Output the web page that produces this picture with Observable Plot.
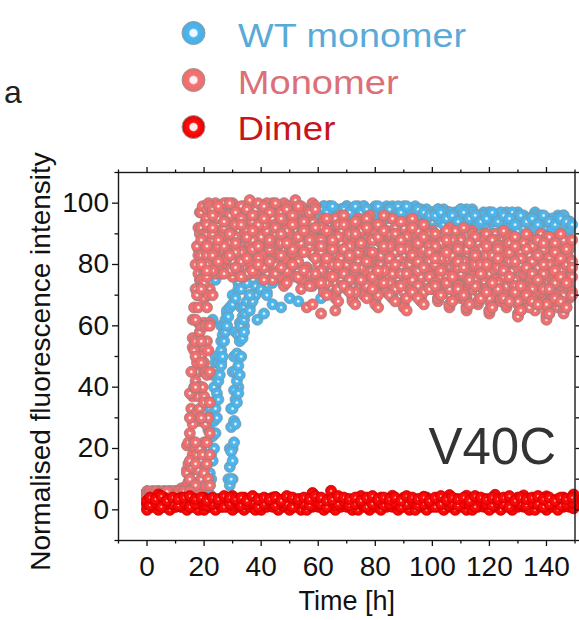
<!DOCTYPE html>
<html><head><meta charset="utf-8">
<script src="https://cdn.jsdelivr.net/npm/d3@7"></script>
<script src="https://cdn.jsdelivr.net/npm/@observablehq/plot@0.6"></script>
<style>
body{margin:0;background:#fff;font-family:"Liberation Sans",Arial,sans-serif;}
#wrap{position:relative;width:579px;height:620px;overflow:hidden;background:#fff;}
#legend{position:absolute;left:0;top:0;}
#chart{position:absolute;left:0;top:150px;}
</style></head><body>
<div id="wrap"><svg id="legend" width="579" height="150"></svg><div id="chart"></div></div>
<script>
const FONT = "Liberation Sans, Arial, sans-serif";

// time grids (h)
const hours = [0,2,4,6,8,10,12,14,16,18,20,22,24,26,28,30,32,34,36,38,40,42,44,46,48,50,52,54,56,58,60,62,64,66,68,70,72,74,76,78,80,82,84,86,88,90,92,94,96,98,100,102,104,106,108,110,112,114,116,118,120,122,124,126,128,130,132,134,136,138,140,142,144,146,148];
const hoursOdd = [1,3,5,7,9,11,13,15,17,19,21,23,25,27,29,31,33,35,37,39,41,43,45,47,49,51,53,55,57,59,61,63,65,67,69,71,73,75,77,79,81,83,85,87,89,91,93,95,97,99,101,103,105,107,109,111,113,115,117,119,121,123,125,127,129,131,133,135,137,139,141,143,145,147,149];

// Monomer (pink) replicate traces, even hours
const pink1 = [5,6,5,4,6,5,6, 13,45,77,91, 97,99,95,100,94,98,96,99,93,97,95,100,96,94,99,95,98,93,97, 93,95,90,94,96,89,93,95,91,94,88,93,90,95,92,89,94,90,93,88, 91,87,90,92,88,89,86,91,87,90,85,90,88,86,89,87,84,89,86,90,85,88,89,84,87];
const pink2 = [4,5,6,5,4,6,5, 6,37,70,88, 93,90,95,88,92,96,89,94,91,87,95,92,90,96,88,93,91,89,94, 89,86,91,84,88,90,85,89,87,92,83,88,86,90,85,89,84,88,91,86, 86,83,88,82,85,87,81,86,84,88,80,85,83,87,82,86,84,81,85,83,87,80,84,86,82];
const pink3 = [6,4,5,6,5,4,5, 5,29,61,86, 89,85,91,86,88,83,90,87,85,92,84,89,86,90,83,88,91,85,87, 85,81,87,80,84,86,79,85,82,88,78,84,81,86,80,85,83,79,86,82, 81,77,83,76,80,82,75,81,78,84,74,80,77,82,76,81,79,73,80,78,83,75,79,81,77];
const pink4 = [5,5,4,6,6,5,4, 4,21,53,81, 84,81,87,79,85,82,78,86,83,80,88,81,84,79,86,82,85,78,83, 81,77,83,75,80,82,74,79,85,76,81,73,80,78,84,75,79,82,77,80, 77,73,79,71,76,78,70,75,80,72,77,69,75,74,79,70,76,78,72,75,68,77,74,71,76];
const pink5 = [4,6,5,5,4,6,6, 5,13,45,77, 80,77,82,78,76,81,79,77,83,78,80,76,79,74,78,81,75,77,73, 77,73,79,71,76,74,70,78,72,75,69,77,73,71,76,68,74,72,70,75, 73,69,75,67,72,70,66,74,68,71,65,73,69,67,72,64,70,68,66,71,63,69,67,65,70];
const pink6 = [6,5,4,5,6,4,5, 6,6,37,69, 92,95,90,97,93,91,96,94,89,98,92,95,90,94,97,91,93,96,90, 88,85,90,83,87,89,84,88,86,91,82,87,85,89,83,88,86,84,87,85, 84,80,85,79,83,81,78,84,80,86,77,82,80,84,78,83,81,76,82,80,85,78,81,83,79];
const pink7 = [5,4,6,5,5,6,4, 5,5,29,61, 88,91,87,93,89,86,92,90,88,94,87,91,89,85,92,88,90,86,91, 84,80,86,78,83,81,77,85,79,84,76,82,80,85,78,83,81,77,84,79, 80,76,81,74,79,77,73,80,75,82,72,78,76,80,74,79,77,71,78,76,81,73,77,79,75];
const pink8 = [4,5,5,6,4,5,6, 4,5,21,53, 84,87,82,88,85,83,89,86,81,87,84,82,88,80,85,83,86,79,84, 80,76,82,74,79,77,73,81,75,78,72,80,76,74,79,71,77,75,73,78, 76,72,78,70,75,73,69,76,71,74,68,75,72,70,74,67,73,71,69,74,66,72,70,68,73];
const pink9 = [6,5,6,4,5,5,6, 5,4,13,45, 80,83,79,85,81,78,84,80,77,83,79,81,76,82,78,80,75,79,74, 76,72,78,70,75,73,69,77,71,74,68,76,72,70,75,67,73,71,69,74, 72,68,74,66,71,69,65,72,67,70,64,71,68,66,70,63,69,67,65,70,62,68,66,64,69];
const pink10 = [6,5,6,5,4,6,7, 21,53,85,97, 99,100,98,96,100,97,99,101,98,96,100,99,97,100,98,101,99,97,100, 92,94,90,95,91,93,89,94,92,96,90,93,91,95,89,92,94,90,93,91, 89,86,90,87,91,88,85,90,87,89,84,88,86,90,85,88,87,83,88,86,89,84,87,88,85];
const pink11 = [5,6,4,5,6,5,5, 4,5,6,37, 72,80,77,82,78,79,76,81,78,80,77,75,79,73,77,76,72,78,74, 74,71,76,69,73,72,68,75,70,72,67,74,71,69,73,66,72,70,68,72, 72,69,74,67,71,70,66,72,68,70,65,71,69,67,70,68,69,66,69,71,64,70,68,66,70];
const pink12 = [4,5,5,6,5,4,6, 5,4,5,29, 61,85,89,92,88,94,90,87,93,89,91,86,92,88,90,94,87,91,89, 83,79,85,77,82,80,76,84,78,81,75,83,79,77,82,74,80,78,76,81, 75,71,77,72,74,70,68,76,73,72,69,75,71,73,74,68,72,70,71,73,67,71,69,70,72];
// Monomer traces, odd hours
const pink13 = [5,6,5,5,6,4,6, 30,62,88,95, 98,95,100,96,93,99,97,94,100,96,98,93,97,99,95,98,94,96,99, 92,95,89,93,96,90,94,91,95,88,93,96,90,92,94,89,95,91,93,90, 90,87,91,88,86,92,87,89,85,90,88,86,91,87,89,84,90,86,88,85,89,87,90,84,88];
const pink14 = [4,5,6,4,5,6,5, 10,40,72,86, 90,86,92,87,89,84,91,88,86,93,85,90,87,91,84,89,92,86,88, 84,80,87,79,85,82,78,86,81,83,77,85,80,84,79,86,82,78,85,81, 80,76,82,75,79,81,74,80,77,83,73,79,76,81,75,80,78,72,79,77,82,74,78,80,76];
const pink15 = [5,4,5,6,5,5,4, 5,22,55,80, 83,80,86,78,84,81,77,85,82,79,87,80,83,78,85,81,84,77,82, 78,74,80,72,77,75,71,79,73,76,70,78,74,72,77,69,75,73,71,76, 74,70,76,68,73,71,67,75,69,72,66,74,70,68,73,65,71,69,67,72,64,70,68,66,71];
const pink16 = [6,5,5,4,6,5,5, 16,50,80,93, 96,99,94,100,97,95,98,96,93,99,97,100,95,98,96,99,94,97,98, 88,91,85,89,93,86,90,87,92,84,89,91,86,90,88,85,92,87,89,86, 86,82,88,83,85,81,87,84,80,86,83,85,79,84,86,82,85,81,83,87,80,84,82,85,81];
const pink17 = [5,6,4,5,5,6,5, 5,8,30,66, 78,81,77,83,79,76,82,78,80,75,81,77,79,74,80,76,78,73,77, 74,70,76,68,73,71,67,75,69,72,66,74,70,68,73,65,71,69,67,72, 73,70,74,68,72,70,67,73,69,71,66,72,69,68,71,65,70,68,67,72,64,69,68,66,70];
const pink18 = [4,5,5,6,4,5,6, 6,15,48,78, 92,88,94,90,87,93,89,91,86,95,88,92,90,87,93,89,91,88,92, 86,82,88,80,85,83,79,87,81,84,78,86,82,80,85,77,83,81,79,84, 82,78,84,76,81,79,75,83,77,80,74,82,78,76,81,73,79,77,75,80,72,78,76,74,79];
// extra Monomer points [h, value] (rise streak, outliers)
const pinkExtra = [[14,8],[14,12],[14.5,9],[14.5,15],[14.5,22],[15,10],[15,25],[15,38],[15.5,14],[15.5,33],[15.5,45],[16,8],[16,18],[16,28],[16,56],[16,62],[16.5,22],[16.5,40],[16.5,52],[16.5,66],
 [17,8],[17,20],[17,42],[17,55],[17,72],[17,80],[17.5,18],[17.5,32],[17.5,48],[17.5,70],[17.5,86],[18,9],[18,40],[18,66],[18,83],[18,92],
 [18.5,20],[18.5,33],[18.5,58],[18.5,75],[18.5,90],[18.5,97],[19,10],[19,40],[19,50],[19,60],[19,75],[19,83],[19,92],[19,97],
 [19.5,18],[19.5,40],[19.5,55],[19.5,80],[19.5,88],[19.5,99],[20,12],[20,22],[20,35],[20,48],[20,74],[20,90],[20.5,8],[20.5,28],[20.5,45],[20.5,60],[20.5,78],[20.5,86],[20.5,94],
 [21,15],[21,22],[21,44],[21,55],[21,76],[21,83],[21,90],[21,98],[21.5,10],[21.5,30],[21.5,52],[21.5,70],[21.5,92],[21.5,100],
 [22,8],[22,18],[22,25],[22,35],[22,45],[22,60],[22,80],[22,99],[23,70],[23,88],[23,97],[56,66],[58,67],[61,64],[66,65]];

// WT monomer (blue) replicate traces
const blue1 = [2,1,2,3,1,2,2, 1,2,2,3, 20,40,55,64,70,74,78,82,85,88,90,92,94,95,96,97,96,98,97, 98,97,99,96,98,99,97,98,99,96,98,97,99,98,96,99,97,98,96,97, 97,95,98,96,97,94,96,98,95,97,94,96,95,97,93,96,94,95,97,93,95,94,96,92,94];
const blue2 = [1,2,2,1,3,2,1, 2,1,2,1, 8,30,48,60,67,72,76,80,83,86,89,91,93,95,96,97,98,97,99, 97,99,96,98,97,99,98,96,98,97,99,96,98,99,97,98,96,99,97,98, 96,98,94,97,95,96,98,94,96,95,97,93,96,94,95,97,93,95,96,92,95,93,94,96,92];
const blue3 = [2,2,1,2,2,3,1, 2,2,1,2, 2,1,2,2,20,50,65,70,73,75,77,79,81,83,85,86,88,89,90, 91,92,93,94,94,95,96,95,96,97,96,95,97,96,98,95,96,97,95,96, 95,94,96,93,95,94,92,95,93,96,94,92,95,93,94,91,95,93,92,94,90,93,92,94,91];
const blue4 = [1,2,3,2,1,2,2, 1,2,2,1, 1,2,1,3,10,40,60,66,70,72,71,74,76,78,80,82,84,85,87, 87,88,89,90,91,92,93,92,94,93,95,94,96,95,94,96,95,97,96,95, 94,96,93,95,92,94,95,91,94,93,95,92,94,91,93,95,92,94,90,93,92,91,94,90,92];
const blue5 = [2,3,2,1,2,2,3, 2,1,3,3, 35,75,88,94,95,96,95,97,96,98,95,97,96,98,97,95,97,96,97, 98,97,99,98,98,96,97,99,98,96,98,97,96,98,97,96,98,96,97,95, 97,98,96,97,95,98,96,97,94,96,97,95,96,94,97,95,96,93,95,96,94,95,93,96,94];
const blue6 = [1,2,1,2,3,1,2, 2,2,1,4, 4,50,80,90,93,95,96,97,95,96,98,97,95,97,96,98,95,97,96, 97,99,96,98,95,97,98,96,99,97,96,98,95,97,99,96,97,95,98,96, 96,95,97,94,96,98,95,97,93,96,95,94,97,95,93,96,94,95,92,95,94,92,95,93,94];
// WT monomer trace, odd hours
const blue7 = [2,1,2,2,1,3,2, 2,1,3,30, 62,80,88,92,93,95,95,96,95,97,96,95,97,96,98,96,95,97,96, 98,97,99,96,98,97,99,97,98,96,99,97,98,96,97,99,96,98,97,96, 96,97,95,96,94,97,95,96,94,95,97,94,96,95,93,96,94,95,93,96,94,93,95,94,93];
// extra WT monomer points [h, value] (rise streaks, low points)
const blueExtra = [[20,3],[20.5,4],[20.5,8],[21,4],[21,9],[21,15],[21.5,12],[21.5,20],[21.5,26],[22,5],[22,12],[22,26],[22,33],[22.5,10],[22.5,18],[22.5,24],[22.5,31],[23,16],[23,24],[23,30],[23,35],[23,44],
 [23.5,20],[23.5,29],[23.5,40],[24,25],[24,33],[24,48],[24.5,30],[24.5,38],[24.5,44],[25,36],[25,42],[25,48],[25.5,44],[25.5,50],[26,47],[26,52],[26,60],[26.5,50],[26.5,57],[27,55],[27,60],[27.5,58],[27.5,62],[28,60],[28,65],[28.5,63],[29,66],[30,67],[31,69],[33,72],[35,74],
 [28.5,4],[28.5,10],[29,3],[29,8],[29,14],[29,20],[29.5,10],[29.5,19],[29.5,27],[29.5,33],[30,16],[30,33],[30,45],[30.5,22],[30.5,29],[30.5,39],[30.5,50],[31,28],[31,36],[31,45],[31,58],[31.5,35],[31.5,42],[31.5,51],
 [32,38],[32,47],[32,57],[32.5,44],[32.5,55],[32.5,61],[33,50],[33,60],[33,66],[33.5,56],[33.5,63],[34,58],[34,62],[34,66],[34.5,64],[35,68],[36,65],[37,68],
 [38.7,62],[41,64],[44,67],[47,66],[50,69],[53,68],[61,69],[36,70],[42,70]];

// Dimer (red) replicate traces (even hours)
const red1 = [0,1,0,1,0,1,1,0,1,0,0,1,0,1,1, 0,1,0,1,0,0,1,1,0,1,0,1,0,0,1, 1,0,1,0,1,1,0,0,1,0,1,0,1,1,0, 1,0,0,1,0,1,1,0,1,0,1,0,0,1,1, 0,1,0,1,0,1,1,0,0,1,0,1,0,1,1];
const red2 = [2,2,1.5,2.5,2,2,1.5,2,2.5,2,1.5,2,2,2.5,2, 1.5,2,2.5,2,2,1.5,2,2,2.5,1.5,2,2,2.5,2,1.5, 2,2.5,2,1.5,2,2,2.5,2,1.5,2,2,2.5,2,2,1.5, 2.5,2,2,1.5,2,2.5,2,2,1.5,2,2.5,2,2,1.5,2, 2,1.5,2.5,2,2,2,1.5,2.5,2,2,1.5,2,2.5,2,2];
const red3 = [3,3.5,3,4,3,3.5,4,3,3.5,3,4,3.5,3,3.5,4, 3,3.5,4,3,3.5,3,3.5,4,3,3.5,4,3,3.5,3,4, 3.5,3,4,3.5,3,3.5,3,4,3.5,3,3.5,4,3,3.5,3, 4,3.5,3,3.5,4,3,3.5,3,4,3.5,3,3.5,4,3,3.5, 3,4,3.5,3,3.5,4,3,3.5,3,4,3.5,3,3.5,4,3];
// Dimer traces (odd hours)
const red4 = [1.5,2.5,1,3,2,1.5,2.5,1,2,3,1.5,2,2.5,1,2, 3,1.5,2,2.5,1,2,3,1.5,2.5,2,1,2.5,2,1.5,3, 2,1,2.5,2,3,1.5,2,2.5,1,2,3,1.5,2,2.5,1, 2,3,1.5,2,2.5,1,2,3,2,1.5,2.5,2,1,3,2, 1.5,2.5,2,1,3,2,1.5,2.5,2,1,2,3,1.5,2,2.5];
const red5 = [4,3.5,4.5,3,4,3.5,4,4.5,3.5,4,3,4,3.5,4.5,4, 3.5,4,3,4.5,3.5,4,3.5,4,3,4.5,4,3.5,4,3.5,4.5, 4,3,3.5,4.5,4,3.5,4,3,4,4.5,3.5,4,3.5,4,3, 4.5,4,3.5,4,3,4,4.5,3.5,4,3.5,4,3,4.5,4,3.5, 4,3.5,4,4.5,3,4,3.5,4,4.5,3.5,4,3,4,3.5,4];
const redExtra = [[4,5],[30,4.5],[45,4.2],[58,5.5],[64.5,6.2],[75,4.5],[86,4.6],[97,4.3],[106,4.8],[112,4.6],[122,4.9],[132,4.7],[140,4.4],[149.5,0.5],[149.5,2],[149.5,3.5],[149.5,5]];

// axes ticks
const xMajor = [0,20,40,60,80,100,120,140];
const xMinor = [-10,10,30,50,70,90,110,130,150];
const yMajor = [0,20,40,60,80,100];
const yMinor = [-10,10,30,50,70,90,110];

// legend
const legendLabels = ["WT monomer","Monomer","Dimer"];
const legendText = ["#5aaad8","#dc6f77","#c8141a"];
const legendWidths = [228,161,98];

function toRows(grid, traces, extra) {
  const rows = [];
  traces.forEach(tr => tr.forEach((v, i) => { if (i < grid.length) rows.push({t: grid[i], v}); }));
  extra.forEach(([t, v]) => rows.push({t, v}));
  return rows;
}
const blueRows = toRows(hours, [blue1,blue2,blue3,blue4,blue5,blue6], blueExtra).concat(toRows(hoursOdd, [blue7], []));
const pinkRows = toRows(hours, [pink1,pink2,pink3,pink4,pink5,pink6,pink7,pink8,pink9,pink10,pink11,pink12], pinkExtra)
  .concat(toRows(hoursOdd, [pink13,pink14,pink15,pink16,pink17,pink18], []));
const redRows = toRows(hours, [red1,red2,red3], redExtra).concat(toRows(hoursOdd, [red4,red5], []));

const axisStyle = {color: "#111", strokeWidth: 1.3, label: null, fontFamily: FONT};
const plot = Plot.plot({
  width: 579, height: 470,
  marginTop: 22, marginRight: 4.5, marginBottom: 80, marginLeft: 118,
  x: {domain: [-10, 150], label: null},
  y: {domain: [-10, 110], label: null},
  style: {background: "transparent", fontFamily: FONT, overflow: "visible"},
  marks: [
    Plot.dot(blueRows, {x: "t", y: "v", r: 5.5, fill: "url(#gBlue)", stroke: "#7c97a6", strokeWidth: 0.8}),
    Plot.dot(pinkRows, {x: "t", y: "v", r: 5.5, fill: "url(#gPink)", stroke: "#a07c7e", strokeWidth: 0.8}),
    Plot.dot(redRows, {x: "t", y: "v", r: 5.5, fill: "url(#gRed)", stroke: "#d00000", strokeWidth: 0.8}),
    Plot.frame({stroke: "#1a1a1a", strokeWidth: 1.4}),
    Plot.axisX(xMajor, {...axisStyle, anchor: "bottom", tickSize: 6, tickPadding: 10, fontSize: 28, tickFormat: d => String(d)}),
    Plot.axisX(xMinor, {...axisStyle, anchor: "bottom", tickSize: 3.5, tickFormat: () => ""}),
    Plot.axisX(xMajor, {...axisStyle, anchor: "top", tickSize: 6, tickFormat: () => ""}),
    Plot.axisX(xMinor, {...axisStyle, anchor: "top", tickSize: 3.5, tickFormat: () => ""}),
    Plot.axisY(yMajor, {...axisStyle, anchor: "left", tickSize: 6, tickPadding: 3.5, fontSize: 28, tickFormat: d => String(d)}),
    Plot.axisY(yMinor, {...axisStyle, anchor: "left", tickSize: 3.5, tickFormat: () => ""}),
    Plot.axisY(yMajor, {...axisStyle, anchor: "right", tickSize: 6, tickFormat: () => ""}),
    Plot.axisY(yMinor, {...axisStyle, anchor: "right", tickSize: 3.5, tickFormat: () => ""}),
    Plot.text(["Time [h]"], {frameAnchor: "bottom", text: d => d, textAnchor: "middle", lineAnchor: "bottom", dy: 69, fontSize: 27, fill: "#111"}),
    Plot.text(["Normalised fluorescence intensity"], {frameAnchor: "left", text: d => d, textAnchor: "middle", lineAnchor: "middle", rotate: -90, dx: -77, dy: 5, fontSize: 28, fill: "#111"}),
    Plot.text(["V40C"], {frameAnchor: "bottom-right", text: d => d, textAnchor: "end", lineAnchor: "bottom", dx: -19, dy: -77, fontSize: 51, fill: "#333"})
  ]
});
document.getElementById("chart").appendChild(plot);

// radial gradients for the dots
const svgNode = plot.tagName.toLowerCase() === "svg" ? plot : plot.querySelector("svg");
const defs = d3.select(svgNode).insert("defs", ":first-child");
function grad(sel, id, c0, c1, c2, c3, o1, o2) {
  const g = sel.append("radialGradient").attr("id", id);
  g.append("stop").attr("offset", "0%").attr("stop-color", c0);
  g.append("stop").attr("offset", o1).attr("stop-color", c1);
  g.append("stop").attr("offset", o2).attr("stop-color", c2);
  g.append("stop").attr("offset", "100%").attr("stop-color", c3);
}
grad(defs, "gBlue", "#f5fcff", "#dcf1fc", "#4fb7ee", "#48b2ea", "14%", "34%");
grad(defs, "gPink", "#fffafa", "#fde6e6", "#f27272", "#f06b6b", "14%", "34%");
grad(defs, "gRed", "#ffdede", "#ffa8a8", "#ff1010", "#f20000", "10%", "26%");

// legend + panel letter
const leg = d3.select("#legend");
const ldefs = leg.append("defs");
grad(ldefs, "lBlue", "#f4fbff", "#eef8ff", "#4fb6ee", "#46afe8", "30%", "42%");
grad(ldefs, "lPink", "#fff6f6", "#fdeeee", "#f27474", "#ee6b6b", "30%", "42%");
grad(ldefs, "lRed", "#fff2f2", "#ffeaea", "#ff1010", "#e80000", "30%", "42%");
const lgrads = ["url(#lBlue)","url(#lPink)","url(#lRed)"];
const rowY = [33, 80, 127];
const baseY = [47, 93.5, 140];
const textX = [238, 237.7, 237.4];
legendLabels.forEach((lab, i) => {
  leg.append("circle").attr("cx", 193.5).attr("cy", rowY[i]).attr("r", 11.5)
    .attr("fill", lgrads[i]).attr("stroke", "#9a9a9a").attr("stroke-width", 1);
  leg.append("text").attr("x", textX[i]).attr("y", baseY[i])
    .attr("font-family", FONT).attr("font-size", 34).attr("fill", legendText[i])
    .attr("textLength", legendWidths[i]).attr("lengthAdjust", "spacingAndGlyphs")
    .text(lab);
});
leg.append("text").attr("x", 4).attr("y", 103).attr("font-family", FONT)
  .attr("font-size", 32).attr("fill", "#222").text("a");
</script>
</body></html>
